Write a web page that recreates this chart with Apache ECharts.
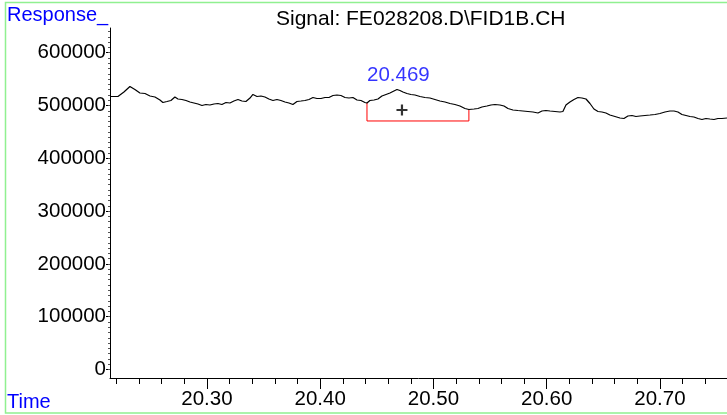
<!DOCTYPE html>
<html>
<head>
<meta charset="utf-8">
<script src="https://cdn.jsdelivr.net/npm/echarts@6/dist/echarts.min.js"></script>
<style>
  html, body { margin: 0; padding: 0; background: #fff; }
  #chart { width: 727px; height: 415px; }
</style>
</head>
<body>
<div id="chart"></div>
<script>
// signal trace (time in min, response)
const times = [
  20.2144, 20.2214, 20.2267, 20.2320, 20.2364, 20.2408, 20.2453, 20.2497, 20.2541, 20.2585,
  20.2611, 20.2647, 20.2682, 20.2717, 20.2744, 20.2779, 20.2815, 20.2850, 20.2885, 20.2921,
  20.2956, 20.2991, 20.3026, 20.3062, 20.3097, 20.3132, 20.3168, 20.3203, 20.3238, 20.3274,
  20.3309, 20.3344, 20.3380, 20.3406, 20.3442, 20.3477, 20.3512, 20.3547, 20.3583, 20.3618,
  20.3653, 20.3689, 20.3724, 20.3759, 20.3795, 20.3830, 20.3865, 20.3901, 20.3936, 20.3971,
  20.4007, 20.4042, 20.4077, 20.4113, 20.4148, 20.4183, 20.4219, 20.4254, 20.4289, 20.4325,
  20.4360, 20.4395, 20.4413, 20.4439, 20.4475, 20.4510, 20.4545, 20.4581, 20.4616, 20.4642,
  20.4678, 20.4704, 20.4731, 20.4766, 20.4801, 20.4837, 20.4881, 20.4925, 20.4969, 20.5013,
  20.5057, 20.5102, 20.5146, 20.5190, 20.5234, 20.5278, 20.5313, 20.5358, 20.5393, 20.5428,
  20.5472, 20.5508, 20.5543, 20.5587, 20.5623, 20.5658, 20.5702, 20.5746, 20.5790, 20.5834,
  20.5879, 20.5923, 20.5958, 20.5993, 20.6029, 20.6073, 20.6117, 20.6143, 20.6170, 20.6205,
  20.6241, 20.6276, 20.6311, 20.6347, 20.6382, 20.6417, 20.6453, 20.6488, 20.6523, 20.6558,
  20.6603, 20.6647, 20.6682, 20.6717, 20.6753, 20.6788, 20.6823, 20.6868, 20.6912, 20.6956,
  20.7000, 20.7044, 20.7088, 20.7124, 20.7159, 20.7194, 20.7230, 20.7265, 20.7300, 20.7336,
  20.7371, 20.7406, 20.7441, 20.7477, 20.7512, 20.7547, 20.7592
];
const responses = [
  517100, 517100, 525600, 536000, 530300, 523700, 522700, 518000, 516100, 510400,
  505700, 507600, 509500, 516100, 512300, 511400, 509500, 506600, 504800, 502900,
  500000, 501900, 501000, 502900, 503800, 501900, 505700, 504800, 508500, 511400,
  508500, 507600, 514200, 520900, 517100, 518000, 516100, 512300, 509500, 511400,
  509500, 506600, 504800, 501900, 507600, 508500, 509500, 511400, 515200, 513300,
  513300, 515200, 515200, 519000, 519900, 519000, 515200, 514200, 515200, 510400,
  509500, 505700, 504800, 509500, 510400, 512300, 518000, 520900, 523700, 526500,
  530300, 528400, 525600, 522700, 520900, 519900, 517100, 515200, 514200, 511400,
  508500, 506600, 503800, 501900, 499100, 494300, 492400, 493400, 494300, 497200,
  499100, 501000, 501900, 501000, 499100, 494300, 491500, 490500, 489600, 488700,
  487700, 485800, 489600, 490500, 489600, 488700, 487700, 488700, 501000, 506600,
  511400, 515200, 514200, 512300, 503800, 493400, 488700, 487700, 485800, 482000,
  479200, 476300, 475400, 480100, 481100, 479200, 480100, 481100, 482000, 483000,
  484900, 487700, 489600, 489600, 487700, 483000, 481100, 479200, 478200, 475400,
  473500, 475400, 474400, 473500, 475400, 475400, 476300
];

// integration baseline of the peak
const baseTimes = [20.4413, 20.4413, 20.5313, 20.5313];
const baseValues = [504800, 470700, 470700, 492400];

const peakTime = 20.469;
const peakValue = 530300;
const peakLabel = '20.469';
const crossTime = 20.4722;
const crossValue = 491500;

const xTicks = [20.30, 20.40, 20.50, 20.60, 20.70];
const xTickLabels = ['20.30', '20.40', '20.50', '20.60', '20.70'];
const xMinorTicks = [
  20.22, 20.24, 20.26, 20.28, 20.30, 20.32, 20.34, 20.36, 20.38, 20.40,
  20.42, 20.44, 20.46, 20.48, 20.50, 20.52, 20.54, 20.56, 20.58, 20.60,
  20.62, 20.64, 20.66, 20.68, 20.70, 20.72, 20.74
];
const yTicks = [0, 100000, 200000, 300000, 400000, 500000, 600000];
const yTickLabels = ['0', '100000', '200000', '300000', '400000', '500000', '600000'];
const yMinorTicks = [];
for (let v = 0; v <= 640000; v += 10000) yMinorTicks.push(v);

const xMin = 20.2144, xMax = 20.7592;
const yMin = -16100, yMax = 646800;

const font = 'Arial, "Liberation Sans", sans-serif';
const blue = '#0000ff';

const chart = echarts.init(document.getElementById('chart'));

const option = {
  animation: false,
  backgroundColor: '#fff',
  grid: { left: 110, top: 28, right: 0, bottom: 37 },
  xAxis: [
    {
      type: 'value', min: xMin, max: xMax,
      axisLine: { show: true, onZero: false, lineStyle: { color: '#000', width: 1 } },
      axisTick: { show: true, length: 11, customValues: xTicks, lineStyle: { color: '#000' } },
      axisLabel: {
        customValues: xTicks, margin: 11, color: '#000', fontSize: 20.5, fontFamily: font,
        formatter: v => xTickLabels[xTicks.findIndex(t => Math.abs(t - v) < 1e-6)]
      },
      splitLine: { show: false }
    },
    {
      type: 'value', min: xMin, max: xMax, position: 'bottom',
      axisLine: { show: false, onZero: false },
      axisTick: { show: true, length: 6, customValues: xMinorTicks, lineStyle: { color: '#000' } },
      axisLabel: { show: false },
      splitLine: { show: false }
    }
  ],
  yAxis: [
    {
      type: 'value', min: yMin, max: yMax,
      axisLine: { show: true, onZero: false, lineStyle: { color: '#000', width: 1 } },
      axisTick: { show: true, length: 4, customValues: yTicks, lineStyle: { color: '#000' } },
      axisLabel: {
        customValues: yTicks, margin: 4, color: '#000', fontSize: 20.5, fontFamily: font,
        formatter: v => yTickLabels[yTicks.indexOf(Math.round(v))]
      },
      splitLine: { show: false }
    },
    {
      type: 'value', min: yMin, max: yMax, position: 'left',
      axisLine: { show: false, onZero: false },
      axisTick: { show: true, length: 2, customValues: yMinorTicks, lineStyle: { color: '#555' } },
      axisLabel: { show: false },
      splitLine: { show: false }
    }
  ],
  title: {
    text: 'Signal: FE028208.D\\FID1B.CH',
    left: 271, top: 4,
    textStyle: { color: '#000', fontSize: 21, fontWeight: 'normal', fontFamily: font }
  },
  graphic: [
    {
      type: 'rect', silent: true, z: -1,
      shape: { x: 5.5, y: 2.5, width: 740, height: 410.5 },
      style: { fill: 'none', stroke: '#90f090', lineWidth: 1.5 }
    },
    {
      type: 'text', left: 7, top: 5,
      style: { text: 'Response_', fill: blue, fontSize: 20, fontFamily: font }
    },
    {
      type: 'text', left: 7, top: 392,
      style: { text: 'Time', fill: blue, fontSize: 20, fontFamily: font }
    }
  ],
  series: [
    {
      type: 'line', name: 'signal',
      data: times.map((t, i) => [t, responses[i]]),
      showSymbol: false, symbol: 'none',
      lineStyle: { color: '#000', width: 1.2 },
      z: 3
    },
    {
      type: 'line', name: 'baseline',
      data: baseTimes.map((t, i) => [t, baseValues[i]]),
      showSymbol: false, symbol: 'none',
      lineStyle: { color: '#ff0000', width: 1 },
      z: 2
    },
    {
      type: 'scatter', name: 'peak',
      data: [[peakTime, peakValue]],
      symbolSize: 0,
      label: {
        show: true, position: 'top', distance: 4,
        formatter: peakLabel, color: blue, fontSize: 20.5, fontFamily: font
      }
    },
    {
      type: 'scatter', name: 'cross',
      data: [[crossTime, crossValue]],
      symbol: 'path://M4,0h2v4h4v2h-4v4h-2v-4h-4v-2h4z',
      symbolSize: 11,
      itemStyle: { color: '#000' }
    }
  ]
};

chart.setOption(option);
</script>
</body>
</html>
